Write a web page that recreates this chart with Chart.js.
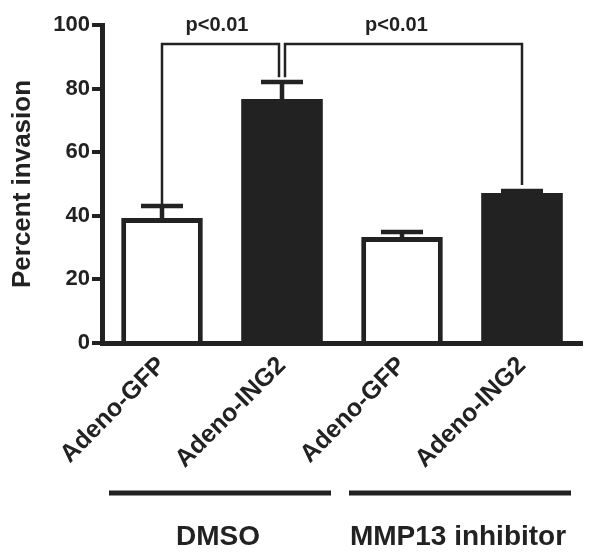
<!DOCTYPE html>
<html>
<head>
<meta charset="utf-8">
<script src="https://cdn.jsdelivr.net/npm/chart.js@4.4.1/dist/chart.umd.min.js"></script>
<style>
  html, body { margin: 0; padding: 0; background: #fff; }
</style>
</head>
<body>
<canvas id="invasionChart" width="601" height="557"></canvas>
<script>
// Invasion assay values
const categories = ['Adeno-GFP', 'Adeno-ING2', 'Adeno-GFP', 'Adeno-ING2'];
const invasion = [39.3, 76.7, 33.3, 47.2];
const sem = [3.8, 5.4, 1.6, 0.6];
const yTicks = [0, 20, 40, 60, 80, 100];

// treatment groups under the axis
const groups = ['DMSO', 'MMP13 inhibitor'];
const groupMembers = [[0, 1], [2, 3]];

// significance brackets: bar pairs, label, bracket height, leg ends
const comparisons = [[0, 1], [1, 3]];
const pLabels = ['p<0.01', 'p<0.01'];
const bracketTop = 94;
const legBottoms = [[43.1, 83.6], [83.6, 49.7]];

const ink = '#222';
const fontFamily = '"Liberation Sans", Arial, Helvetica, sans-serif';
const filled = [false, true, false, true];

const extras = {
  id: 'extras',
  afterDatasetsDraw(chart) {
    const { ctx, scales: { x, y } } = chart;
    ctx.save();
    ctx.strokeStyle = ink;
    ctx.fillStyle = ink;

    // error bars (upper only)
    ctx.lineWidth = 4.5;
    invasion.forEach((v, i) => {
      const cx = x.getPixelForValue(i);
      const top = y.getPixelForValue(v + sem[i]);
      ctx.beginPath();
      ctx.moveTo(cx, y.getPixelForValue(v));
      ctx.lineTo(cx, top);
      ctx.moveTo(cx - 21, top);
      ctx.lineTo(cx + 21, top);
      ctx.stroke();
    });

    // brackets
    ctx.lineWidth = 2.5;
    ctx.font = 'bold 20px ' + fontFamily;
    ctx.textAlign = 'center';
    ctx.textBaseline = 'alphabetic';
    const by = y.getPixelForValue(bracketTop);
    comparisons.forEach(([a, b], k) => {
      // legs sharing a bar get pushed apart a little
      const sharedA = comparisons.some(([, b2], j) => j !== k && b2 === a);
      const sharedB = comparisons.some(([a2], j) => j !== k && a2 === b);
      const x1 = x.getPixelForValue(a) + (sharedA ? 3 : 0);
      const x2 = x.getPixelForValue(b) - (sharedB ? 3 : 0);
      ctx.beginPath();
      ctx.moveTo(x1, y.getPixelForValue(legBottoms[k][0]));
      ctx.lineTo(x1, by);
      ctx.lineTo(x2, by);
      ctx.lineTo(x2, y.getPixelForValue(legBottoms[k][1]));
      ctx.stroke();
      ctx.fillText(pLabels[k], x1 + (x2 - x1) * 0.47, by - 13);
    });
    ctx.restore();
  },
  afterDraw(chart) {
    const { ctx, scales: { x } } = chart;
    ctx.save();
    ctx.strokeStyle = ink;
    ctx.fillStyle = ink;
    ctx.lineWidth = 5;
    ctx.font = 'bold 28px ' + fontFamily;
    ctx.textAlign = 'center';
    ctx.textBaseline = 'alphabetic';
    groups.forEach((name, g) => {
      const m = groupMembers[g];
      const c = (x.getPixelForValue(m[0]) + x.getPixelForValue(m[m.length - 1])) / 2;
      ctx.beginPath();
      ctx.moveTo(c - 113, 493);
      ctx.lineTo(c + 109, 493);
      ctx.stroke();
      ctx.fillText(name, c - 4, 545);
    });
    ctx.restore();
  }
};

const ctx = document.getElementById('invasionChart').getContext('2d');
new Chart(ctx, {
  type: 'bar',
  data: {
    labels: categories,
    datasets: [{
      data: invasion,
      backgroundColor: filled.map(f => f ? ink : '#fff'),
      borderColor: ink,
      borderWidth: filled.map(f => f ? 0 : 5),
      borderSkipped: 'start',
      categoryPercentage: 1,
      barPercentage: 0.68
    }]
  },
  options: {
    responsive: false,
    animation: false,
    layout: { padding: { left: 0, top: 25, right: 19, bottom: 0 } },
    plugins: { legend: { display: false }, tooltip: { enabled: false } },
    scales: {
      x: {
        z: 1,
        grid: { display: true, drawOnChartArea: false, drawTicks: false },
        border: { display: true, width: 5, color: ink },
        ticks: {
          color: ink,
          font: { family: fontFamily, size: 25, weight: 'bold' },
          minRotation: 45,
          maxRotation: 45,
          padding: 8
        },
        afterFit(scale) { scale.height = 214; }
      },
      y: {
        min: 0,
        max: 100,
        afterBuildTicks(scale) { scale.ticks = yTicks.map(v => ({ value: v })); },
        grid: { drawOnChartArea: false, drawTicks: true, tickLength: 10, lineWidth: 4, color: ink },
        border: { display: true, width: 5, color: ink },
        ticks: {
          color: ink,
          padding: 2,
          font: { family: fontFamily, size: 22, weight: 'bold' }
        },
        title: {
          display: true,
          text: 'Percent invasion',
          color: ink,
          padding: { top: 7, bottom: 0 },
          font: { family: fontFamily, size: 26, weight: 'bold' }
        },
        afterFit(scale) { scale.width = 102; }
      }
    }
  },
  plugins: [extras]
});
</script>
</body>
</html>
